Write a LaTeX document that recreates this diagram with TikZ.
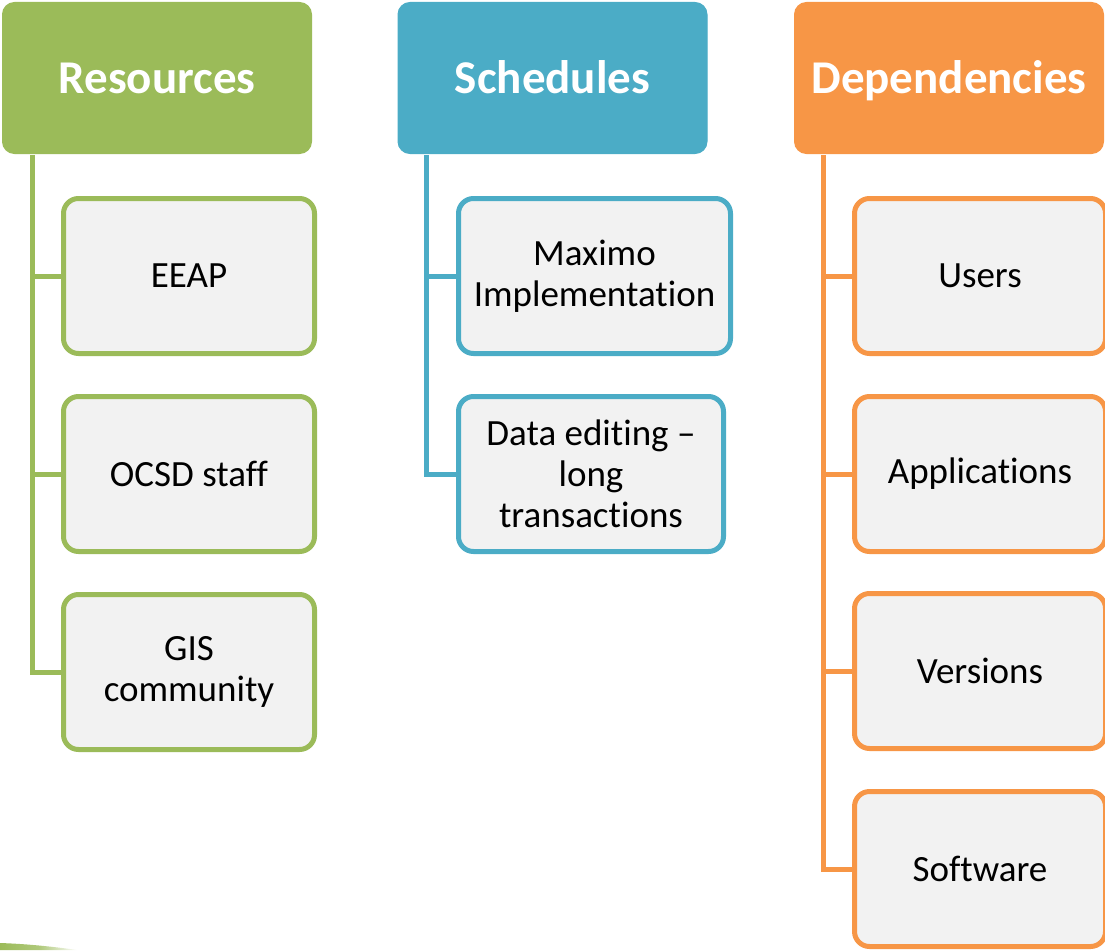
\documentclass[tikz,border=0pt]{standalone}
\usepackage{fontspec}
\setmainfont[Ligatures=NoCommon,RawFeature={-liga;-calt;-dlig}]{Carlito}
\definecolor{cgreen}{HTML}{9BBB59}
\definecolor{cblue}{HTML}{4BACC6}
\definecolor{corange}{HTML}{F79646}
\definecolor{cfill}{HTML}{F2F2F2}
\tikzset{
  hdr/.style={rectangle, rounded corners=12pt, draw=#1, fill=#1, line width=1pt,
    text=white, font=\fontsize{47}{50}\selectfont\bfseries,
    text height=30pt, text depth=0pt,
    minimum width=309pt, minimum height=151pt, inner sep=0pt, align=center},
  child/.style={rectangle, rounded corners=15pt, draw=#1, fill=cfill, line width=5pt,
    text=black, font=\fontsize{37}{41}\selectfont,
    minimum height=155pt, inner sep=0pt, align=center},
  conn/.style={draw=#1, line width=5pt}
}
\begin{document}
\begin{tikzpicture}[x=1pt,y=-1pt]
\useasboundingbox (0,0) rectangle (1105,950);
% headers
\node[hdr=cgreen] (res) at (157,78) {Resources};
\node[hdr=cblue] (sch) at (552.5,78) {Schedules};
\node[hdr=corange] (dep) at (949,78) {Dependencies};
% green children
\node[child=cgreen, minimum width=251pt] (eeap) at (189,276) {EEAP};
\node[child=cgreen, minimum width=251pt] (ocsd) at (189,474) {OCSD staff};
\node[child=cgreen, minimum width=251pt] (gis) at (189,672) {GIS\\community};
% blue children
\node[child=cblue, minimum width=272pt] (max) at (594.5,276) {Maximo\\Implementation};
\node[child=cblue, minimum width=265pt] (data) at (591,474) {Data editing --\\long\\transactions};
% orange children
\node[child=corange, minimum width=251pt] (users) at (980,276) {Users};
\node[child=corange, minimum width=251pt] (apps) at (980,474) {Applications};
\node[child=corange, minimum width=251pt] (vers) at (980,671) {Versions};
\node[child=corange, minimum width=251pt] (soft) at (980,869) {Software};
% connectors
\draw[conn=cgreen] ([xshift=30pt,yshift=-1pt]res.south west) |- (gis.west);
\draw[conn=cgreen] ([xshift=30pt]res.south west |- eeap.west) -- (eeap.west);
\draw[conn=cgreen] ([xshift=30pt]res.south west |- ocsd.west) -- (ocsd.west);
\draw[conn=cblue] ([xshift=29pt,yshift=-1pt]sch.south west) |- (data.west);
\draw[conn=cblue] ([xshift=29pt]sch.south west |- max.west) -- (max.west);
\draw[conn=corange] ([xshift=29pt,yshift=-1pt]dep.south west) |- (soft.west);
\draw[conn=corange] ([xshift=29pt]dep.south west |- users.west) -- (users.west);
\draw[conn=corange] ([xshift=29pt]dep.south west |- apps.west) -- (apps.west);
\draw[conn=corange] ([xshift=29pt]dep.south west |- vers.west) -- (vers.west);
% bottom-left swoosh
\shade[left color=cgreen, right color=white, middle color=cgreen!80] (0,943) .. controls (30,944) and (55,947) .. (78,950) -- (0,950) -- cycle;
\end{tikzpicture}
\end{document}
